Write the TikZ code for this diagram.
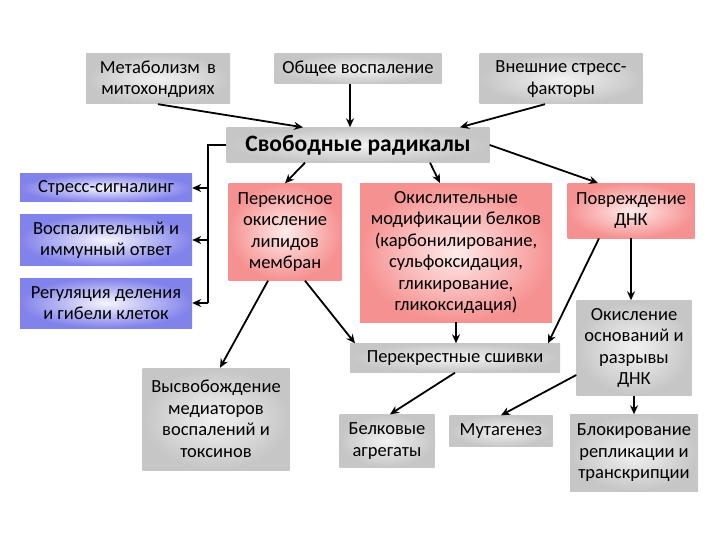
\documentclass[tikz,border=0pt]{standalone}
\usepackage{fontspec}
\setmainfont{Carlito}
\usetikzlibrary{arrows.meta}
\begin{document}
\begin{tikzpicture}[x=1pt,y=-1pt,
  base/.style={inner sep=1pt,align=center,font=\fontsize{18.5}{21.5}\selectfont,text=black},
  grey/.style={base,inner color=gray!10,outer color=gray!45},
  blue/.style={base,inner color=blue!4,outer color={rgb,255:red,130;green,130;blue,235}},
  red/.style={base,inner color=red!8,outer color={rgb,255:red,246;green,145;blue,145}},
  arr/.style={-{Stealth[length=9pt,width=8pt]},line width=1.8pt}]
\useasboundingbox (0,0) rectangle (720,540);
\fill[white] (0,0) rectangle (720,540);
\node[grey,minimum width=144,minimum height=50] (met) at (158,79) {Метаболизм\, в\\митохондриях};
\node[grey,minimum width=167,minimum height=30] (gen) at (358,69) {Общее воспаление};
\node[grey,minimum width=163,minimum height=50] (ext) at (561,79) {Внешние стресс-\\факторы};
\node[grey,minimum width=263,minimum height=35,font=\fontsize{23.5}{26}\selectfont\bfseries] (fr) at (358,145) {Свободные радикалы};
\node[blue,minimum width=172,minimum height=28] (b1) at (106,188) {Стресс-сигналинг};
\node[blue,minimum width=172,minimum height=51] (b2) at (106,240) {Воспалительный и\\иммунный ответ};
\node[blue,minimum width=172,minimum height=50] (b3) at (106,303) {Регуляция деления\\и гибели клеток};
\node[red,minimum width=113,minimum height=97] (lip) at (285,232) {Перекисное\\окисление\\липидов\\мембран};
\node[red,minimum width=192,minimum height=139,anchor=north] (prot) at (456,183) {Окислительные\\модификации белков\\(карбонилирование,\\сульфоксидация,\\гликирование,\\гликоксидация)};
\node[red,minimum width=127,minimum height=55,anchor=north] (dna) at (631,183) {Повреждение\\ДНК};
\node[grey,minimum width=210,minimum height=29] (cross) at (455,358) {Перекрестные сшивки};
\node[grey,minimum width=115,minimum height=95] (ox) at (634,348) {Окисление\\оснований и\\разрывы\\ДНК};
\node[grey,minimum width=147,minimum height=102] (med) at (216,419) {Высвобождение\\медиаторов\\воспалений и\\токсинов};
\node[grey,minimum width=95,minimum height=53] (agg) at (387,441) {Белковые\\агрегаты};
\node[grey,minimum width=103,minimum height=31] (mut) at (501,431) {Мутагенез};
\node[grey,minimum width=128,minimum height=77] (blk) at (634,453) {Блокирование\\репликации и\\транскрипции};
\draw[arr] (met.south) -- (fr.north west -| 303,0);
\draw[arr] (gen.south -| 350,0) -- (fr.north -| 350,0);
\draw[arr] (ext.south -| 545,0) -- (fr.north -| 460,0);
\coordinate (br) at (208,145);
\draw[line width=1.8pt] (fr.west) -- (br) -- (208,303);
\draw[arr] (208,188) -- (b1.east);
\draw[arr] (208,240) -- (b2.east);
\draw[arr] (208,303) -- (b3.east);
\draw[arr] (fr.south -| 305,0) -- (lip.north);
\draw[arr] (fr.south -| 430,0) -- (prot.north -| 440,0);
\draw[arr] (fr.east) -- (dna.north -| 598,0);
\draw[arr] (lip.south -| 268,0) -- (med.north -| 220,0);
\draw[arr] (lip.south -| 305,0) -- (cross.north west -| 355,0);
\draw[arr] (prot.south) -- (cross.north -| 456,0);
\draw[arr] (dna.south -| 599,0) -- (cross.north -| 548,0);
\draw[arr] (dna.south -| 631,0) -- (ox.north -| 631,0);
\draw[arr] (cross.south) -- (agg.north -| 390,0);
\draw[arr] (ox.west |- 0,375) -- (mut.north);
\draw[arr] (ox.south) -- (blk.north);
\end{tikzpicture}
\end{document}
